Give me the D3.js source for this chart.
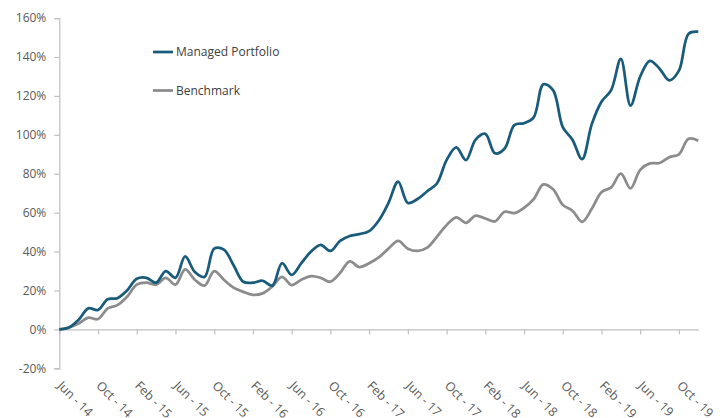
<!DOCTYPE html>
<html>
<head>
<meta charset="utf-8">
<script src="https://cdn.jsdelivr.net/npm/d3@7/dist/d3.min.js"></script>
<style>
  html, body { margin: 0; padding: 0; background: #ffffff; }
  svg { display: block; }
</style>
</head>
<body>
<script>
// ---- data ----
const startYear = 2014, startMonth = 5; // Jun 2014 (0-based month)
const monthNames = ["Jan","Feb","Mar","Apr","May","Jun","Jul","Aug","Sep","Oct","Nov","Dec"];
const managed = [0, 1, 5, 10.8, 10, 15.5, 16, 20, 26, 26.5, 24, 30, 26.5, 37.5, 29.5, 27,
  41.5, 41, 33, 24.5, 24, 25, 22.5, 34, 28, 34, 40, 43.5, 40.3, 45.5, 48, 49, 50.5, 56,
  65, 76, 65, 67, 71, 75, 87, 93.5, 87, 97.5, 100.5, 90.5, 93, 105, 106, 109,
  126, 123, 104, 97.5, 87.5, 105.5, 117, 123, 139, 115, 130, 138, 134, 128, 133, 152, 153];
const benchmark = [0, 1, 3, 6, 5.3, 10.8, 12.5, 16.8, 23, 24, 23, 26.5, 23, 30.8, 25.5, 22.5,
  30, 25.5, 21.5, 19.3, 17.8, 18.5, 22, 27, 22.8, 25.5, 27.4, 26.5, 24.5, 29, 35, 32, 34, 37,
  41.5, 45.5, 41.5, 40.3, 42, 47.6, 53.6, 57.6, 54.8, 58.5, 57, 55.5, 60.5, 59.8, 62.5, 67,
  74.5, 72, 64, 61, 55.3, 62, 70.5, 73, 80, 72.5, 82, 85.3, 85.5, 88.5, 90, 98, 97];
const seriesNames = ["Managed Portfolio", "Benchmark"];
const seriesColors = ["#195b7b", "#8c8c8c"];
const yTicks = [-20, 0, 20, 40, 60, 80, 100, 120, 140, 160];
const tickEvery = 4;

const categories = managed.map((_, i) => {
  const m = (startMonth + i) % 12;
  const y = startYear + Math.floor((startMonth + i) / 12);
  return monthNames[m] + " - " + String(y % 100).padStart(2, "0");
});

// ---- layout ----
const W = 724, H = 418;
const svg = d3.select("body").append("svg").attr("width", W).attr("height", H);

const x = d3.scaleLinear().domain([0, categories.length - 1]).range([59.3, 698.3]);
const y = d3.scaleLinear().domain([-20, 160]).range([368.3, 18.1]);

const axisColor = "#bfbfbf";
const textColor = "#595959";
const font = "'Open Sans', 'Liberation Sans', sans-serif";

// y axis
const yAxis = d3.axisLeft(y).tickValues(yTicks).tickFormat(d => d + "%").tickSize(5).tickPadding(8);
const gy = svg.append("g").attr("transform", `translate(${x(0)},0)`).call(yAxis);
gy.select(".domain").attr("stroke", axisColor).attr("stroke-width", 1.2);
gy.selectAll(".tick line").attr("stroke", axisColor).attr("stroke-width", 1.2);
gy.selectAll(".tick text").attr("fill", textColor).style("font-family", font).style("font-size", "12px");

// x axis at 0%
const tickIdx = d3.range(0, categories.length, tickEvery);
const xAxis = d3.axisBottom(x).tickValues(tickIdx).tickFormat(i => categories[i]).tickSize(5).tickSizeOuter(0);
const gx = svg.append("g").attr("transform", `translate(0,${y(0)})`).call(xAxis);
gx.select(".domain").attr("stroke", axisColor).attr("stroke-width", 1.2);
gx.selectAll(".tick line").attr("stroke", axisColor).attr("stroke-width", 1.2);
gx.selectAll(".tick text")
  .attr("fill", textColor)
  .style("font-family", font).style("font-size", "12.5px")
  .attr("text-anchor", "start")
  .attr("x", 0).attr("y", 0).attr("dy", "0.35em")
  .attr("transform", "translate(0,54) rotate(45)");

// lines
const line = d3.line().x((d, i) => x(i)).y(d => y(d)).curve(d3.curveCatmullRom.alpha(0.5));
[benchmark, managed].forEach((s, k) => {
  svg.append("path").datum(s)
    .attr("fill", "none")
    .attr("stroke", k === 0 ? seriesColors[1] : seriesColors[0])
    .attr("stroke-width", 2.75)
    .attr("stroke-linejoin", "round")
    .attr("d", line);
});

// legend
const legend = svg.append("g");
seriesNames.forEach((name, k) => {
  const ly = 52 + k * 38.5;
  legend.append("line").attr("x1", 153).attr("x2", 173).attr("y1", ly).attr("y2", ly)
    .attr("stroke", seriesColors[k]).attr("stroke-width", 2.75);
  legend.append("text").attr("x", 176).attr("y", ly).attr("dy", "0.35em")
    .attr("fill", "#404040").style("font-family", font).style("font-size", "12px")
    .text(name);
});
</script>
</body>
</html>
